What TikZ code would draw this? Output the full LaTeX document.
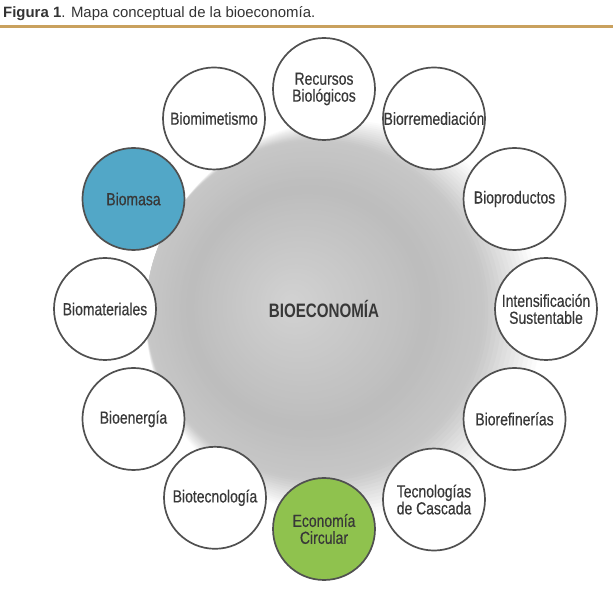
\documentclass[tikz,border=0pt]{standalone}
\usepackage{fontspec}
\setmainfont{Liberation Sans}
\newfontfamily\condfont[FakeStretch=0.8,FakeBold=0.4]{Liberation Sans}
\newfontfamily\hubfont[FakeStretch=0.78]{Liberation Sans}
\usepackage{xcolor}
\usepackage{tikz}
\usetikzlibrary{positioning,calc}

\definecolor{titlegray}{HTML}{333333}
\definecolor{rulegold}{HTML}{C9A15E}
\definecolor{ringgray}{HTML}{505050}
\definecolor{labelgray}{HTML}{383838}
\definecolor{biomasablue}{HTML}{52A7C7}
\definecolor{circulargreen}{HTML}{8FC24E}

\begin{document}
\begin{tikzpicture}[
  x=1bp, y=1bp,
  font=\condfont\fontsize{17.5}{17}\selectfont,
  hub/.style={circle, minimum size=380bp, text=labelgray, font=\hubfont\bfseries\fontsize{19.5}{20}\selectfont},
  topic/.style={circle, draw=ringgray, line width=1.7bp, fill=white, minimum size=102bp, inner sep=0pt, align=center, text=labelgray},
  ring/.style={line width=2.2bp, rulegold}
]
\useasboundingbox (0,0) rectangle (613,592);
\node[anchor=base west, inner sep=0pt, text=titlegray, font=\fontsize{15}{18}\selectfont] (title) at (3,574) {\textbf{Figura 1}. Mapa conceptual de la bioeconomía.};
\coordinate (ruleL) at (0,565.5);
\coordinate (ruleR) at (613,565.5);
\draw[ring] (ruleL) -- (ruleR);

% grey glow behind the hub, soft towards the lower right
\coordinate (core) at (324,283);
\foreach \i in {0,...,89} {
  \pgfmathsetmacro\t{1-\i/90}
  \pgfmathsetmacro\rad{200*\t}
  \pgfmathsetmacro\s{\t>0.85 ? 200*(1-\t) : 30+30*(0.85-\t)}
  \pgfmathsetmacro\g{\t>0.85 ? 146.7*(1-\t) : (\t>0.6 ? 22+16*(0.85-\t) : 26-14*(0.6-\t))}
  \fill[black!\g] ($(core)+({22-\s},{-10+0.3*\s})$) circle[radius=\rad bp];
}
\node[hub] (bio) at (core) {BIOECONOMÍA};

\node[topic] (recursos) at ($(bio)+(90:220)$) {Recursos\\Biológicos};
\node[topic] (remed) at ($(bio)+(60:220)$) {Biorremediación};
\node[topic] (products) at ($(bio)+(30:220)$) {Bioproductos};
\node[topic] (intens) at ($(bio)+(0:222)$) {Intensificación\\Sustentable};
\node[topic] (refin) at ($(bio)+(-30:220)$) {Biorefinerías};
\node[topic] (cascada) at ($(bio)+(-60:220)$) {Tecnologías\\de Cascada};
\node[topic, fill=circulargreen] (circular) at ($(bio)+(-90:220)$) {Economía\\Circular};
\node[topic] (biotec) at ($(bio)+(-120:218)$) {Biotecnología};
\node[topic] (energia) at ($(bio)+(-150:220)$) {Bioenergía};
\node[topic] (materiales) at ($(bio)+(180:219)$) {Biomateriales};
\node[topic, fill=biomasablue] (biomasa) at ($(bio)+(150:220)$) {Biomasa};
\node[topic] (mimetismo) at ($(bio)+(120:220)$) {Biomimetismo};
\end{tikzpicture}
\end{document}
